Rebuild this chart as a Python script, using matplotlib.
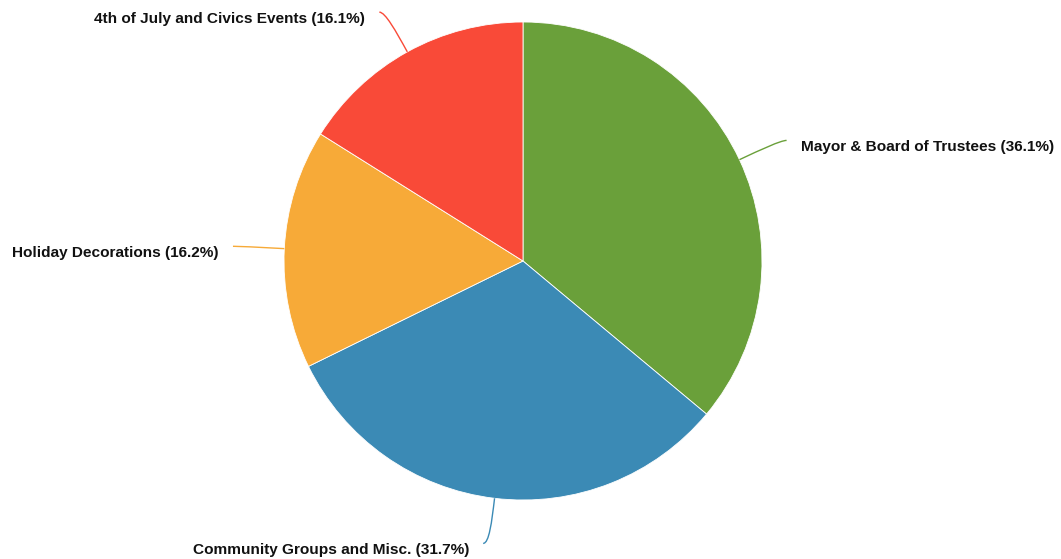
import numpy as np
import matplotlib
matplotlib.use("Agg")
import matplotlib.pyplot as plt
from matplotlib.path import Path
from matplotlib.patches import PathPatch

categories = [
    "Mayor & Board of Trustees",
    "Community Groups and Misc.",
    "Holiday Decorations",
    "4th of July and Civics Events",
]
shares = [36.1, 31.7, 16.2, 16.1]
colors = ["#6aa03a", "#3b8ab5", "#f7aa38", "#f94a38"]

W, H = 1061, 559
fig = plt.figure(figsize=(W / 100, H / 100), dpi=100)
ax = fig.add_axes([0, 0, 1, 1])

cx, cy, r = 523, H - 261, 239
ax.pie(shares, colors=colors, startangle=90, counterclock=False,
       center=(cx, cy), radius=r, frame=True,
       wedgeprops=dict(edgecolor="white", linewidth=0.6))
ax.set_xlim(0, W)
ax.set_ylim(0, H)
ax.set_aspect("equal")
ax.axis("off")

total = sum(shares)
start = 90.0
for name, val, col in zip(categories, shares, colors):
    sweep = 360.0 * val / total
    mid = np.deg2rad(start - sweep / 2)
    start -= sweep
    ux, uy = np.cos(mid), np.sin(mid)
    side = 1 if ux > 0 else -1
    p0 = (cx + r * ux, cy + r * uy)
    c1 = (cx + 1.10 * r * ux, cy + 1.10 * r * uy)
    c2 = (cx + 1.19 * r * ux, cy + 1.19 * r * uy)
    p2 = (c2[0] + side * 6, c2[1])
    path = Path([p0, c1, c2, p2],
                [Path.MOVETO, Path.CURVE4, Path.CURVE4, Path.CURVE4])
    ax.add_patch(PathPatch(path, fc="none", ec=col, lw=1.0))
    tx = p2[0] + side * 14
    ty = p2[1] - 7
    ax.text(tx, ty, f"{name} ({val}%)", ha="left" if side > 0 else "right",
            va="center", fontsize=11.1, fontweight="bold",
            family=["Liberation Sans", "DejaVu Sans"], color="#111111")

fig.savefig("out.png", dpi=100)
